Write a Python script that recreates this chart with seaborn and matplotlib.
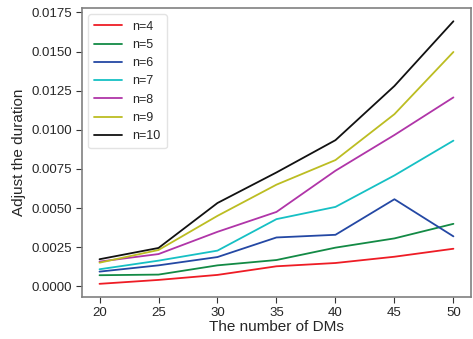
import numpy as np
import pandas as pd
import matplotlib
matplotlib.use("Agg")
import matplotlib.pyplot as plt
import seaborn as sns

dms = [20, 25, 30, 35, 40, 45, 50]
n4 = [0.00017, 0.00042, 0.00074, 0.00129, 0.00150, 0.00190, 0.00241]
n5 = [0.00072, 0.00076, 0.00135, 0.00169, 0.00248, 0.00307, 0.00400]
n6 = [0.00095, 0.00135, 0.00188, 0.00313, 0.00330, 0.00557, 0.00320]
n7 = [0.00110, 0.00165, 0.00229, 0.00430, 0.00508, 0.00709, 0.00931]
n8 = [0.00159, 0.00207, 0.00349, 0.00476, 0.00739, 0.00967, 0.01207]
n9 = [0.00152, 0.00233, 0.00451, 0.00650, 0.00807, 0.01100, 0.01497]
n10 = [0.00174, 0.00246, 0.00533, 0.00728, 0.00934, 0.01280, 0.01693]
labels = ["n=4", "n=5", "n=6", "n=7", "n=8", "n=9", "n=10"]
series = [n4, n5, n6, n7, n8, n9, n10]
colors = ["#ee1c25", "#138a45", "#2448a4", "#16c0c4", "#b035a8", "#bcbd22", "#111111"]
yticks = [0.0, 0.0025, 0.005, 0.0075, 0.01, 0.0125, 0.015, 0.0175]

rows = []
for lab, vals in zip(labels, series):
    for x, v in zip(dms, vals):
        rows.append({"dms": x, "val": v, "n": lab})
df = pd.DataFrame(rows)

sns.set_style("ticks")
plt.rcParams["font.family"] = "sans-serif"
plt.rcParams["font.sans-serif"] = ["Liberation Sans", "Arial", "DejaVu Sans"]

fig = plt.figure(figsize=(4.73, 3.39), dpi=100)
ax = fig.add_axes([0.173, 0.124, 0.823, 0.852])
sns.lineplot(data=df, x="dms", y="val", hue="n", hue_order=labels,
             palette=colors, linewidth=1.3, ax=ax)

ax.set_xticks(dms)
ax.set_yticks(yticks)
ax.set_yticklabels([f"{v:.4f}" for v in yticks])
ax.set_xlabel("The number of DMs", fontsize=11, labelpad=1)
ax.set_ylabel("Adjust the duration", fontsize=11, labelpad=4)
ax.tick_params(labelsize=9.5, color="#333333", length=4, pad=3)
for s in ax.spines.values():
    s.set_visible(True)
    s.set_color("#808080")
    s.set_linewidth(1.2)
leg = ax.legend(loc="upper left", fontsize=9, frameon=True, handlelength=2.25,
                handletextpad=0.8, labelspacing=0.5, borderpad=0.5)
leg.get_frame().set_edgecolor("#dddddd")
fig.savefig("out.png", dpi=100)
